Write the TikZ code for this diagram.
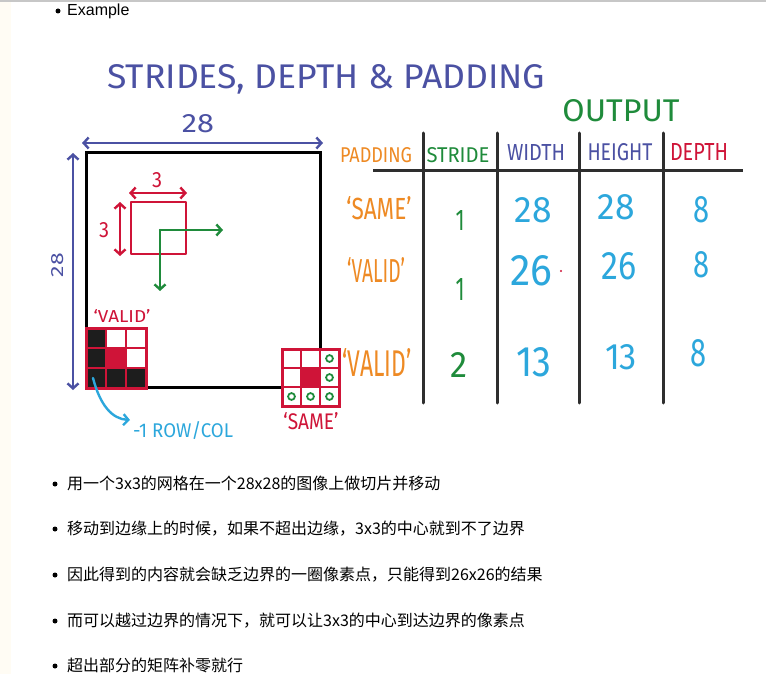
\documentclass[tikz,border=0pt]{standalone}
\usepackage{fontspec}
\usepackage{graphicx}
\setmainfont{Liberation Sans}
\newfontfamily\cjk{Noto Sans CJK SC}
\newfontfamily\handfont{Fira Sans}
\usetikzlibrary{arrows.meta}
\definecolor{penblue}{HTML}{4B51A3}
\definecolor{penred}{HTML}{CF1438}
\definecolor{pengreen}{HTML}{1F8B3B}
\definecolor{penorange}{HTML}{EE8A24}
\definecolor{pencyan}{HTML}{2CA7DC}
\definecolor{inkgray}{HTML}{2E2E2E}
\definecolor{cellblack}{HTML}{1D1D1D}
\definecolor{sidestrip}{HTML}{FFFCF4}
\newcommand{\HAND}[3]{\resizebox{#1}{#2}{\handfont #3}}
\tikzset{
  hand/.style={inner sep=0pt},
  pen/.style={line width=2.4pt, line cap=round, line join=round},
  barb/.style={-{Straight Barb[length=5pt,width=11pt]}},
  barbs/.style={{Straight Barb[length=5pt,width=11pt]}-{Straight Barb[length=5pt,width=11pt]}},
  bulletline/.style={anchor=base west, inner sep=0pt, font=\fontsize{16}{19}\selectfont},
}

\begin{document}
\begin{tikzpicture}[x=1pt,y=-1pt]
    \useasboundingbox (0,0) rectangle (766,674);
    \fill[white] (0,0) rectangle (766,674);
    \fill[sidestrip] (0,2) rectangle (11,674);
    \draw[black!22, line width=1.2pt] (0,1) -- (766,1);

    % page text
    \fill (58,11) circle (2.5);
    \node[bulletline] (ex) at (67,16) {Example};

    \node[hand, anchor=base west, text=penblue] (title) at (107,89)
        {\HAND{438pt}{24pt}{STRIDES, DEPTH \& PADDING}};

    % the 28x28 image
    \coordinate (a) at (86,153);
    \coordinate (b) at (320,387);
    \draw[line width=3pt] (a) rectangle (b);

    \coordinate (w1) at (82,143);
    \coordinate (w2) at (323,143);
    \coordinate (h1) at (73,153);
    \coordinate (h2) at (73,390);
    \draw[pen, penblue, barbs] (w1) -- (w2);
    \draw[pen, penblue, barbs] (h1) -- (h2);
    \node[hand, text=penblue] (wlbl) at (198,124) {\HAND{32pt}{18pt}{28}};
    \node[hand, text=penblue, rotate=90] (hlbl) at (58,265) {\HAND{24pt}{12pt}{28}};

    % 3x3 window and its moves
    \draw[pen, penred] (131,202) rectangle (186,254);
    \coordinate (k1) at (129,193);
    \coordinate (k2) at (187,193);
    \coordinate (k3) at (120,202);
    \coordinate (k4) at (120,256);
    \draw[pen, penred, barbs] (k1) -- (k2);
    \draw[pen, penred, barbs] (k3) -- (k4);
    \node[hand, text=penred] (klblw) at (157,180) {\HAND{10pt}{15pt}{3}};
    \node[hand, text=penred] (klblh) at (104,230) {\HAND{10pt}{15pt}{3}};

    \coordinate (m) at (160,230);
    \coordinate (mr) at (223,230);
    \coordinate (md) at (160,291);
    \draw[pen, pengreen, barb] (m) -- (mr);
    \draw[pen, pengreen, barb] (m) -- (md);

    % 'valid' corner
    \foreach \c/\r/\col in {0/0/cellblack,0/1/cellblack,0/2/cellblack,1/2/cellblack,2/2/cellblack,1/1/penred} {
        \fill[\col] (86+20*\c,328+20*\r) rectangle +(20,20);
    }
    \foreach \i in {1,2} {
        \draw[penred, line width=2.2pt] (86+20*\i,328) -- +(0,60);
        \draw[penred, line width=2.2pt] (86,328+20*\i) -- +(60,0);
    }
    \draw[penred, line width=3pt] (86,328) rectangle (146,388);
    \node[hand, text=penred] (vlbl) at (122,316) {\HAND{57pt}{13pt}{‘VALID’}};

    \coordinate (c1) at (93,378);
    \coordinate (c2) at (130,420);
    \draw[pen, pencyan, barb] (c1) .. controls (100,405) and (112,419) .. (c2);
    \node[hand, text=pencyan] (rowcol) at (183,431) {\HAND{100pt}{16pt}{-1 ROW/COL}};

    % 'same' corner
    \fill[white] (282,349) rectangle (339,406);
    \fill[penred] (301,368) rectangle (320,387);
    \foreach \i in {1,2} {
        \draw[penred, line width=2.2pt] (282+19*\i,349) -- +(0,57);
        \draw[penred, line width=2.2pt] (282,349+19*\i) -- +(57,0);
    }
    \draw[penred, line width=3pt] (282,349) rectangle (339,406);
    \foreach \c/\r in {2/0,2/1,2/2,0/2,1/2} {
        \draw[pengreen, line width=1.8pt] (291.5+19*\c,358.5+19*\r) circle (3.4);
    }
    \node[hand, text=penred] (slbl) at (311,421) {\HAND{55pt}{17pt}{‘SAME’}};

    % output table
    \node[hand, text=pengreen] (out) at (621,111) {\HAND{117pt}{22pt}{OUTPUT}};
    \draw[inkgray, line width=3pt] (373,171) -- (743,171);
    \foreach \x in {423,497,579,663} {
        \draw[inkgray, line width=3pt, line cap=round] (\x,133) -- (\x,403);
    }

    \node[hand, text=penorange] (pad) at (376,155) {\HAND{72pt}{15pt}{PADDING}};
    \node[hand, text=pengreen] (str) at (458,155) {\HAND{63pt}{15pt}{STRIDE}};
    \node[hand, text=penblue] (wid) at (536,152) {\HAND{58pt}{16pt}{WIDTH}};
    \node[hand, text=penblue] (hei) at (620,152) {\HAND{65pt}{17pt}{HEIGHT}};
    \node[hand, text=penred] (dep) at (699,152) {\HAND{58pt}{17pt}{DEPTH}};

    \node[hand, text=penorange] (p1) at (379,208) {\HAND{65pt}{23pt}{‘SAME’}};
    \node[hand, text=penorange] (p2) at (376,270) {\HAND{58pt}{25pt}{‘VALID’}};
    \node[hand, text=penorange] (p3) at (377,362) {\HAND{69pt}{28pt}{‘VALID’}};

    \node[hand, text=pengreen] (s1) at (460,220) {\HAND{9pt}{20pt}{1}};
    \node[hand, text=pengreen] (s2) at (460,289) {\HAND{9pt}{22pt}{1}};
    \node[hand, text=pengreen] (s3) at (459,365) {\HAND{17pt}{25pt}{2}};

    \node[hand, text=pencyan] (w1v) at (533,210) {\HAND{37pt}{25pt}{28}};
    \node[hand, text=pencyan] (w2v) at (531,271) {\HAND{42pt}{30pt}{26}};
    \node[hand, text=pencyan] (w3v) at (534,362) {\HAND{35pt}{29pt}{13}};
    \fill[penred] (561,271) circle (1.2);

    \node[hand, text=pencyan] (h1v) at (616,207) {\HAND{37pt}{25pt}{28}};
    \node[hand, text=pencyan] (h2v) at (619,266) {\HAND{35pt}{27pt}{26}};
    \node[hand, text=pencyan] (h3v) at (621,357) {\HAND{32pt}{25pt}{13}};

    \node[hand, text=pencyan] (d1v) at (701,210) {\HAND{16pt}{26pt}{8}};
    \node[hand, text=pencyan] (d2v) at (701,265) {\HAND{16pt}{26pt}{8}};
    \node[hand, text=pencyan] (d3v) at (698,353) {\HAND{16pt}{27pt}{8}};

    % notes below
    \foreach \y/\txt in {
        489/用一个3x3的网格在一个28x28的图像上做切片并移动,
        534/移动到边缘上的时候，如果不超出边缘，3x3的中心就到不了边界,
        580/因此得到的内容就会缺乏边界的一圈像素点，只能得到26x26的结果,
        626/而可以越过边界的情况下，就可以让3x3的中心到达边界的像素点,
        671/超出部分的矩阵补零就行} {
        \fill (55,\y-5) circle (2.5);
        \node[bulletline, font=\fontsize{16}{19}\cjk] at (67,\y) {\txt};
    }
\end{tikzpicture}
\end{document}
